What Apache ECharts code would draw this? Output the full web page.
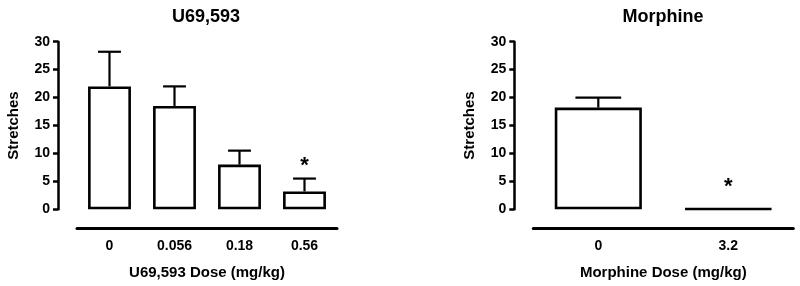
<!DOCTYPE html>
<html>
<head>
<meta charset="utf-8">
<script src="https://cdn.jsdelivr.net/npm/echarts@6/dist/echarts.min.js"></script>
<style>
  html, body { margin: 0; padding: 0; background: #fff; }
  #chart { width: 800px; height: 286px; }
</style>
</head>
<body>
<div id="chart"></div>
<script>
// U69,593 panel
const uCategories = ['0', '0.056', '0.18', '0.56'];
const uMeans = [22, 18.5, 8, 3.2];
const uErrors = [6.2, 3.5, 2.5, 2.3];
const uStarAt = [null, null, null, 8.5];

// Morphine panel
const mCategories = ['0', '3.2'];
const mMeans = [18.2, 0.1];
const mErrors = [1.8, 0];
const mStarAt = [null, 4.8];

const yTicks = { min: 0, max: 30, interval: 5 };
const font = 'Liberation Sans, Arial, sans-serif';

const chart = echarts.init(document.getElementById('chart'), null, { renderer: 'canvas' });

function errorRender(params, api) {
    const x = api.value(0);
    const mean = api.value(1);
    const err = api.value(2);
    const star = api.value(3);
    const base = api.coord([x, mean]);
    const top = api.coord([x, mean + err]);
    const half = api.size([1, 0])[0] * 0.176;
    const stroke = { stroke: '#000', lineWidth: 2.2 };
    const children = [];
    if (err > 0) {
        children.push({ type: 'line', shape: { x1: base[0], y1: base[1], x2: top[0], y2: top[1] }, style: stroke });
        children.push({ type: 'line', shape: { x1: top[0] - half, y1: top[1], x2: top[0] + half, y2: top[1] }, style: stroke });
    }
    if (star >= 0) {
        const p = api.coord([x, star]);
        children.push({
            type: 'text', x: p[0], y: p[1] + 4,
            style: { text: '*', fill: '#000', font: 'bold 22px ' + font, align: 'center', verticalAlign: 'middle' }
        });
    }
    return { type: 'group', children };
}

function errorData(means, errors, stars) {
    return means.map((m, i) => [i, m, errors[i], stars[i] == null ? -1 : stars[i]]);
}

function xAxisFor(idx, cats, name) {
    return {
        type: 'category', gridIndex: idx, data: cats, offset: 19,
        name, nameLocation: 'middle', nameGap: 37,
        nameTextStyle: { fontFamily: font, fontWeight: 'bold', fontSize: 15, color: '#000' },
        axisLine: { onZero: false, lineStyle: { color: '#000', width: 3 } },
        axisTick: { alignWithLabel: true, length: 7, lineStyle: { color: '#000', width: 2.5 } },
        axisLabel: { margin: 11, fontFamily: font, fontWeight: 'bold', fontSize: 14, color: '#000' },
        splitLine: { show: false }
    };
}

function yAxisFor(idx) {
    return {
        type: 'value', gridIndex: idx, offset: 19,
        min: yTicks.min, max: yTicks.max, interval: yTicks.interval,
        name: 'Stretches', nameLocation: 'middle', nameGap: 37, nameRotate: 90,
        nameTextStyle: { fontFamily: font, fontWeight: 'bold', fontSize: 15, color: '#000' },
        axisLine: { show: true, onZero: false, lineStyle: { color: '#000', width: 2.5 } },
        axisTick: { show: true, length: 5, lineStyle: { color: '#000', width: 2.5 } },
        axisLabel: { margin: 8, fontFamily: font, fontWeight: 'bold', fontSize: 14, color: '#000' },
        splitLine: { show: false }
    };
}

const barStyle = { color: '#fff', borderColor: '#000', borderWidth: 2.6 };
const titleStyle = { fontFamily: font, fontWeight: 'bold', fontSize: 18, color: '#000' };

chart.setOption({
    animation: false,
    backgroundColor: '#fff',
    title: [
        { text: 'U69,593', left: 201, top: 3, textAlign: 'center', textStyle: titleStyle },
        { text: 'Morphine', left: 658, top: 3, textAlign: 'center', textStyle: titleStyle }
    ],
    grid: [
        { left: 77, width: 260, top: 41.7, height: 167.6 },
        { left: 533.3, width: 260, top: 41.7, height: 167.6 }
    ],
    xAxis: [
        xAxisFor(0, uCategories, 'U69,593 Dose (mg/kg)'),
        xAxisFor(1, mCategories, 'Morphine Dose (mg/kg)')
    ],
    yAxis: [yAxisFor(0), yAxisFor(1)],
    series: [
        { type: 'bar', xAxisIndex: 0, yAxisIndex: 0, data: uMeans, barWidth: '66%', itemStyle: barStyle },
        { type: 'bar', xAxisIndex: 1, yAxisIndex: 1, data: mMeans, barWidth: '67%', itemStyle: barStyle },
        { type: 'custom', xAxisIndex: 0, yAxisIndex: 0, renderItem: errorRender,
          encode: { x: 0, y: 1 }, data: errorData(uMeans, uErrors, uStarAt), z: 3 },
        { type: 'custom', xAxisIndex: 1, yAxisIndex: 1, renderItem: errorRender,
          encode: { x: 0, y: 1 }, data: errorData(mMeans, mErrors, mStarAt), z: 3 }
    ]
});
</script>
</body>
</html>
